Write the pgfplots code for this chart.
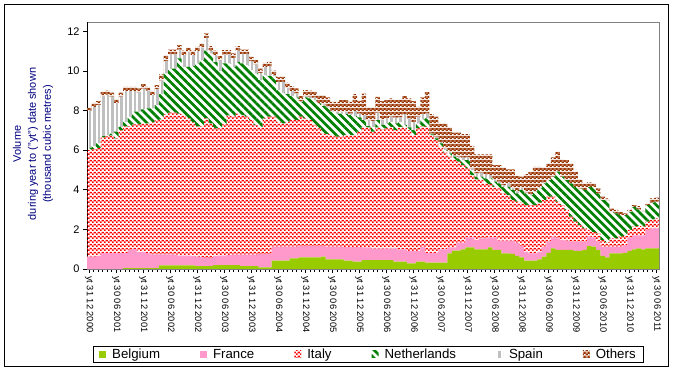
\documentclass[border=0pt]{standalone}
\usepackage{fontspec}
\setmainfont{Liberation Sans}
\usepackage{pgfplots}
\usepackage{pgfplotstable}
\pgfplotsset{compat=1.18}
\usetikzlibrary{patterns.meta}
\definecolor{beyg}{HTML}{99CC00}
\definecolor{frpink}{HTML}{FF99CC}
\definecolor{itred}{HTML}{FF0000}
\definecolor{nlgreen}{HTML}{008000}
\definecolor{spgray}{HTML}{C0C0C0}
\definecolor{otbrown}{HTML}{993300}
\definecolor{axgray}{HTML}{808080}
\definecolor{lblnavy}{HTML}{000080}
\tikzdeclarepattern{
  name=itdots,
  type=colored,
  bottom left={(0bp,0bp)},
  top right={(4bp,4bp)},
  tile size={(4bp,4bp)},
  code={
    \fill[itred] (0bp,0bp) rectangle (2bp,2bp);
    \fill[itred] (2bp,2bp) rectangle (3.9bp,3.9bp);
  }
}
\tikzdeclarepattern{
  name=otbrick,
  type=colored,
  bottom left={(0bp,0bp)},
  top right={(4bp,4bp)},
  tile size={(4bp,4bp)},
  code={
    \fill[otbrown] (0bp,0bp) rectangle (4bp,4bp);
    \fill[white] (0bp,0bp) rectangle (2bp,1bp);
    \fill[white] (2bp,2bp) rectangle (4bp,3bp);
  }
}
\pgfplotstableread{
x B F I N S O
0 0 0.62 5.38 0.12 1.87 0.17
1 0 0.62 5.43 0.16 1.98 0.20
2 0 0.65 5.45 0.24 1.94 0.20
3 0 0.80 5.85 0.06 2.04 0.20
4 0 0.80 5.90 0.06 2.04 0.20
5 0 0.80 5.95 0.09 1.86 0.20
6 0 0.80 5.80 0.33 1.45 0.20
7 0 0.80 6.20 0.18 1.52 0.20
8 0.05 0.75 6.40 0.23 1.55 0.22
9 0.05 0.90 6.25 0.49 1.29 0.22
10 0.05 0.95 6.30 0.64 1.04 0.22
11 0.05 0.80 6.45 0.64 0.98 0.20
12 0.05 0.80 6.50 0.71 1.05 0.22
13 0.05 0.75 6.55 0.76 0.89 0.20
14 0.05 0.69 6.66 0.71 0.67 0.20
15 0.05 0.69 6.76 0.77 0.81 0.20
16 0.18 0.56 6.81 1.28 0.69 0.30
17 0.18 0.56 7.06 2.07 0.63 0.30
18 0.18 0.56 7.16 2.22 0.71 0.25
19 0.18 0.54 7.18 2.22 0.71 0.25
20 0.18 0.50 7.17 2.78 0.45 0.22
21 0.18 0.49 7.08 2.46 0.59 0.22
22 0.18 0.49 6.93 2.61 0.75 0.22
23 0.18 0.47 6.75 2.84 0.56 0.22
24 0.15 0.47 6.58 3.18 0.62 0.22
25 0.15 0.45 6.60 3.35 0.62 0.22
26 0.15 0.40 7.05 3.42 0.63 0.24
27 0.15 0.40 6.80 3.53 0.15 0.22
28 0.20 0.45 6.45 3.35 0.35 0.22
29 0.20 0.47 6.43 2.90 0.53 0.22
30 0.20 0.47 6.63 3.08 0.45 0.22
31 0.20 0.50 7.05 2.63 0.45 0.22
32 0.20 0.52 6.97 2.52 0.45 0.22
33 0.20 0.52 7.13 2.61 0.57 0.22
34 0.15 0.57 7.05 2.61 0.48 0.22
35 0.15 0.57 6.97 2.60 0.57 0.22
36 0.15 0.57 6.80 2.52 0.45 0.22
37 0.15 0.57 6.55 2.60 0.46 0.22
38 0.08 0.67 6.43 2.36 0.36 0.22
39 0.08 0.67 6.85 2.19 0.40 0.22
40 0.08 0.67 6.94 2.05 0.50 0.22
41 0.42 0.71 6.56 2.05 0.05 0.22
42 0.42 0.71 6.30 1.60 0.42 0.25
43 0.42 0.71 6.22 1.55 0.55 0.25
44 0.42 0.71 6.30 1.40 0.32 0.25
45 0.54 0.59 6.39 1.21 0.25 0.25
46 0.54 0.59 6.39 1.14 0.21 0.25
47 0.59 0.57 6.53 0.75 0.04 0.25
48 0.59 0.57 6.44 1.06 0.07 0.30
49 0.59 0.57 6.36 1.09 0.09 0.30
50 0.59 0.57 6.11 1.26 0.12 0.30
51 0.59 0.57 5.94 1.26 0.02 0.40
52 0.62 0.54 5.68 1.38 0.11 0.45
53 0.49 0.64 5.68 1.35 0.05 0.45
54 0.49 0.64 5.63 1.18 0.05 0.45
55 0.49 0.64 5.55 1.17 0.09 0.50
56 0.49 0.64 5.55 1.17 0.08 0.60
57 0.42 0.68 5.66 1.06 0.11 0.60
58 0.42 0.68 5.66 1.01 0.07 0.60
59 0.37 0.73 5.66 0.96 0.26 0.85
60 0.37 0.73 5.83 0.72 0.19 0.65
61 0.45 0.64 6.09 0.34 0.25 1.09
62 0.45 0.64 6.06 0.06 0.31 0.64
63 0.45 0.58 5.90 0.25 0.30 0.68
64 0.45 0.58 6.12 0.37 0.37 0.80
65 0.45 0.58 6.02 0.22 0.25 0.96
66 0.45 0.58 6.07 0.25 0.25 0.93
67 0.45 0.59 6.14 0.25 0.26 0.92
68 0.37 0.67 5.97 0.34 0.29 0.89
69 0.37 0.62 6.19 0.25 0.22 0.91
70 0.37 0.62 6.16 0.12 0.55 0.91
71 0.29 0.63 6.09 0.14 0.45 1.01
72 0.29 0.63 5.84 0.25 0.42 1.05
73 0.37 0.55 6.18 0.25 0.34 0.50
74 0.37 0.76 6.07 0.35 0.27 0.84
75 0.32 0.50 6.36 0.42 0.25 1.08
76 0.32 0.50 5.94 0.04 0.04 0.98
77 0.32 0.50 5.69 0.08 0.09 1.01
78 0.32 0.67 5.18 0.17 0.08 0.93
79 0.32 0.67 4.88 0.13 0.09 1.26
80 0.79 0.30 4.58 0.17 0.08 1.23
81 0.93 0.16 4.41 0.17 0.08 1.13
82 0.93 0.40 4.09 0.16 0.09 1.21
83 0.99 0.34 3.92 0.25 0.12 1.19
84 1.09 0.51 3.48 0.42 0.13 1.18
85 1.09 0.51 3.14 0.25 0.09 1.13
86 0.99 0.47 3.06 0.14 0.17 0.96
87 0.99 0.56 2.97 0.14 0.20 0.93
88 0.99 0.56 2.77 0.25 0.22 1.00
89 1.09 0.51 2.69 0.28 0.17 1.05
90 0.96 0.64 2.55 0.26 0.11 0.73
91 0.96 0.47 2.64 0.25 0.09 0.84
92 0.79 0.64 2.39 0.33 0.09 0.89
93 0.79 0.64 2.30 0.42 0.17 0.71
94 0.76 0.67 2.05 0.51 0.10 0.94
95 0.66 0.67 2.07 0.42 0.10 0.77
96 0.59 0.57 2.19 0.64 0.10 0.57
97 0.42 0.45 2.36 0.59 0.05 0.92
98 0.42 0.37 2.44 0.50 0.05 1.13
99 0.42 0.37 2.44 0.67 0.05 1.21
100 0.49 0.38 2.48 0.72 0.05 1.04
101 0.62 0.51 2.35 0.84 0.05 0.76
102 0.82 0.56 2.27 0.84 0 0.84
103 1.04 0.59 2.02 1.01 0 0.97
104 0.96 0.59 1.85 1.51 0 1.01
105 0.96 0.50 1.77 1.43 0 0.87
106 0.96 0.47 1.55 1.51 0 1.01
107 0.96 0.42 1.26 1.68 0 1.01
108 0.92 0.46 1.01 1.76 0 0.76
109 0.92 0.46 0.84 1.85 0 0.45
110 0.96 0.42 0.67 1.94 0 0.33
111 1.16 0.47 0.34 2.18 0 0.22
112 1.13 0.47 0.28 2.27 0 0.17
113 0.96 0.42 0.42 2.02 0 0.25
114 0.66 0.47 0.33 2.02 0 0.17
115 0.59 0.54 0.22 2.13 0 0.09
116 0.79 0.34 0.42 1.34 0 0.16
117 0.79 0.34 0.42 1.26 0 0.17
118 0.79 0.34 0.50 1.09 0 0.17
119 0.82 0.39 0.45 1.06 0 0.09
120 0.92 0.68 0.37 0.91 0 0.10
121 0.99 0.71 0.44 1.00 0 0.09
122 1.04 0.66 0.47 0.84 0 0.17
123 0.99 0.71 0.44 0.75 0 0.05
124 1.04 0.93 0.42 0.84 0 0.08
125 1.04 1.01 0.45 0.85 0 0.22
126 1.04 1.01 0.50 0.85 0 0.20
127 1.04 1.01 0.50 0.85 0 0.20
}\datatable
\begin{document}
\begin{tikzpicture}
\useasboundingbox (0bp,0bp) rectangle (673bp,371bp);
\draw[black, line width=1bp] (4.5bp,4.5bp) rectangle (668.5bp,366.5bp);
\begin{axis}[
  at={(87bp,102bp)}, anchor=south west,
  scale only axis, width=572bp, height=247bp,
  xmin=0, xmax=127, ymin=0, ymax=12.47,
  stack plots=y,
  axis line style={draw=axgray, line width=0.8bp},
  tick align=outside,
  major tick length=4bp,
  minor tick length=3bp,
  xtick pos=bottom, ytick pos=left,
  tick style={black, line width=0.6bp},
  ytick={0,2,4,6,8,10,12},
  xtick={0.5,6.5,...,126.5},
  minor x tick num=5,
  xticklabels={yt 31 12 2000,yt 30 06 2001,yt 31 12 2001,yt 30 06 2002,yt 31 12 2002,yt 30 06 2003,yt 31 12 2003,yt 30 06 2004,yt 31 12 2004,yt 30 06 2005,yt 31 12 2005,yt 30 06 2006,yt 31 12 2006,yt 30 06 2007,yt 31 12 2007,yt 30 06 2008,yt 31 12 2008,yt 30 06 2009,yt 31 12 2009,yt 30 06 2010,yt 31 12 2010,yt 30 06 2011},
  xticklabel style={rotate=-90, anchor=west, font=\fontsize{9.3}{10}\selectfont, inner sep=0pt, xshift=3bp},
  yticklabel style={font=\fontsize{11}{12}\selectfont},
  /pgf/number format/assume math mode=true,
  ylabel={Volume\\during year to ("yt") date shown\\(thousand cubic metres)},
  ylabel style={at={(axis description cs:-0.0944,0.506)}, anchor=center, align=center, font=\fontsize{11}{15}\selectfont, text=lblnavy},
  legend columns=6,
  legend cell align=left,
  legend style={at={(0.492,-0.346)}, anchor=center, draw=black, line width=0.8bp, font=\fontsize{13.3}{15}\selectfont, inner ysep=0.5bp, inner xsep=6bp,
    /tikz/every odd column/.append style={column sep=4bp},
    /tikz/every even column/.append style={column sep=38bp}},
  legend image code/.code={\path[#1, draw=none] (0bp,-3.5bp) rectangle (7bp,3.5bp);},
]
\addplot[const plot mark left, draw=none, fill=beyg] table[x=x,y=B]{\datatable} \closedcycle;
\addplot[const plot mark left, draw=none, fill=frpink] table[x=x,y=F]{\datatable} \closedcycle;
\addplot[const plot mark left, draw=none, pattern=itdots] table[x=x,y=I]{\datatable} \closedcycle;
\addplot[const plot mark left, draw=none, pattern={Lines[angle=-45,distance=5.7bp,line width=2.7bp]}, pattern color=nlgreen] table[x=x,y=N]{\datatable} \closedcycle;
\addplot[const plot mark left, draw=none, pattern={Lines[angle=90,distance=4.5bp,line width=2.6bp]}, pattern color=spgray] table[x=x,y=S]{\datatable} \closedcycle;
\addplot[const plot mark left, draw=none, pattern=otbrick] table[x=x,y=O]{\datatable} \closedcycle;
\legend{Belgium,France,Italy,Netherlands,Spain,Others}
\draw[black, line width=0.8bp] (rel axis cs:0,0) -- (rel axis cs:0,1);
\draw[black, line width=0.8bp] (rel axis cs:0,0) -- (rel axis cs:1,0);
\end{axis}
\end{tikzpicture}
\end{document}
